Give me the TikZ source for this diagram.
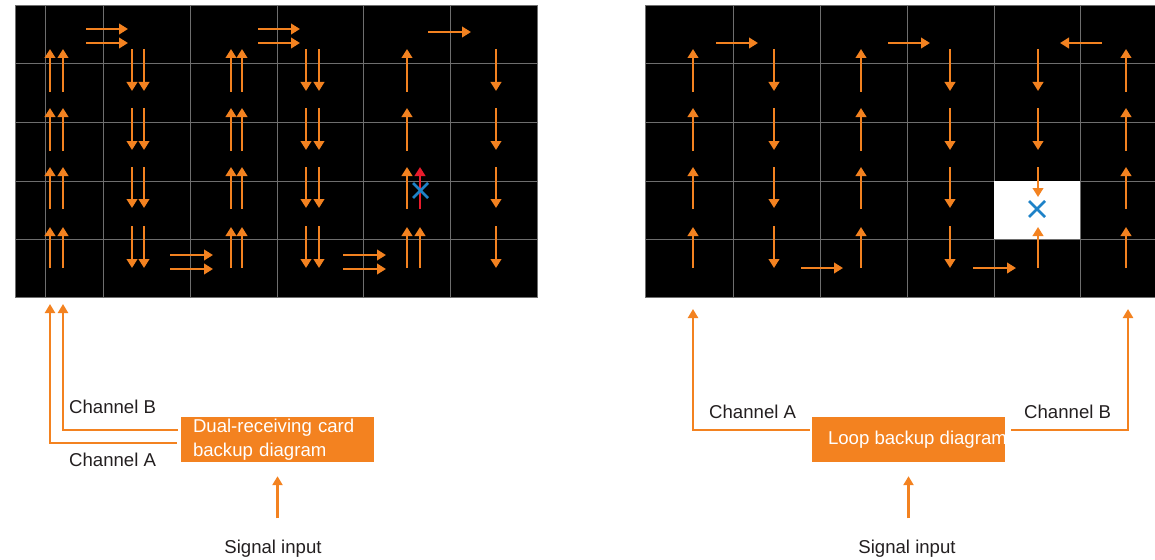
\documentclass[tikz,border=0pt]{standalone}
\usepackage{fontspec}
\setmainfont{Liberation Sans}
\usetikzlibrary{arrows.meta}

\definecolor{ledorange}{RGB}{243,130,32}
\definecolor{gridgray}{RGB}{110,110,110}
\definecolor{crossblue}{RGB}{30,130,200}
\definecolor{failred}{RGB}{232,28,44}
\definecolor{labelgray}{RGB}{35,31,32}

\tikzset{
	flow/.style={draw=ledorange, line width=2.7pt, -{Triangle[width=10.5pt,length=9pt]}},
	feed/.style={draw=ledorange, line width=2.3pt, -{Triangle[width=10pt,length=9pt]}},
	gridline/.style={draw=gridgray, line width=1pt},
	crossmark/.style={draw=crossblue, line width=2.6pt},
	cardbox/.style={fill=ledorange, text=white, inner ysep=0pt, minimum height=45pt, align=left, font=\fontsize{18.6}{24}\selectfont},
	chlabel/.style={text=labelgray, inner sep=0pt, font=\fontsize{18.6}{24}\selectfont}
}

\begin{document}
\begin{tikzpicture}[x=1pt,y=-1pt]
	\useasboundingbox (0,0) rectangle (1155,559);
	% dual receiving card panel
	\fill[black] (15,6) rectangle (537,297);
	\foreach \x in {45,103,190,277,363,450} \draw[gridline] (\x,6)--(\x,297);
	\foreach \y in {64,122,181,239} \draw[gridline] (15,\y)--(537,\y);
	\draw[gridline] (15,6) rectangle (537,297);
	\foreach \x in {50,63,231,242,407}
		\foreach \a/\b in {92/49,151/108,209/167,268/227} \draw[flow] (\x,\a)--(\x,\b);
	\foreach \x in {132,144,306,319,496}
		\foreach \a/\b in {49/91,108/150,167/208,226/268} \draw[flow] (\x,\a)--(\x,\b);
	\draw[flow] (420,268)--(420,227);
	\draw[flow, draw=failred] (420,209)--(420,167);
	\foreach \y in {29,43} \draw[flow] (86,\y)--(128,\y);
	\foreach \y in {29,43} \draw[flow] (258,\y)--(300,\y);
	\foreach \y in {255,269} \draw[flow] (170,\y)--(213,\y);
	\foreach \y in {255,269} \draw[flow] (343,\y)--(386,\y);
	\draw[flow] (428,32)--(471,32);
	\draw[crossmark] (413,183)--(428,198) (413,198)--(428,183);

	% loop backup panel
	\fill[black] (645,6) rectangle (1155,297);
	\foreach \x in {733,820,907,994,1080} \draw[gridline] (\x,6)--(\x,297);
	\foreach \y in {64,122,181,239} \draw[gridline] (645,\y)--(1155,\y);
	\draw[gridline] (645,6) rectangle (1155,297);
	\fill[white] (994,181) rectangle (1080,239);
	\foreach \x in {693,861,1126}
		\foreach \a/\b in {92/49,151/108,209/167,268/227} \draw[flow] (\x,\a)--(\x,\b);
	\foreach \x in {774,950}
		\foreach \a/\b in {49/91,108/150,167/208,226/268} \draw[flow] (\x,\a)--(\x,\b);
	\foreach \a/\b in {49/91,108/150,167/197} \draw[flow] (1038,\a)--(1038,\b);
	\draw[flow] (1038,268)--(1038,227);
	\draw[flow] (716,43)--(758,43);
	\draw[flow] (888,43)--(930,43);
	\draw[flow] (1102,43)--(1060,43);
	\draw[flow] (801,268)--(843,268);
	\draw[flow] (973,268)--(1016,268);
	\draw[crossmark] (1029,201)--(1045,217) (1029,217)--(1045,201);

	% dual card wiring
	\node[cardbox, text width=169pt, inner xsep=12pt] (dual) at (277.5,439.5) {Dual-receiving card\\backup diagram};
	\node[chlabel, anchor=base west] (dualB) at (69,413) {Channel B};
	\node[chlabel, anchor=base west] (dualA) at (69,466) {Channel A};
	\node[chlabel, anchor=base] (dualIn) at (273,553) {Signal input};
	\coordinate (tipA) at (50,304);
	\coordinate (tipB) at (63,304);
	\draw[feed] ([xshift=-4pt,yshift=-3.5pt]dual.west) -| (tipA);
	\draw[feed] ([xshift=-3pt,yshift=9.5pt]dual.west) -| (tipB);
	\draw[feed, shorten <=21pt, shorten >=14pt] (dualIn.north -| dual.south) -- (dual.south);

	% loop wiring
	\node[cardbox, inner xsep=16pt] (loop) at (908.5,439.5) {\makebox[161pt][l]{Loop backup diagram}};
	\node[chlabel, anchor=base west] (loopA) at (709,418) {Channel A};
	\node[chlabel, anchor=base west] (loopB) at (1024,418) {Channel B};
	\node[chlabel, anchor=base] (loopIn) at (907,553) {Signal input};
	\coordinate (tipLA) at (693,309);
	\coordinate (tipLB) at (1128,309);
	\draw[feed] ([xshift=-2pt,yshift=9.5pt]loop.west) -| (tipLA);
	\draw[feed] ([xshift=6pt,yshift=9.5pt]loop.east) -| (tipLB);
	\draw[feed, shorten <=21pt, shorten >=14pt] (loopIn.north -| loop.south) -- (loop.south);
\end{tikzpicture}
\end{document}
